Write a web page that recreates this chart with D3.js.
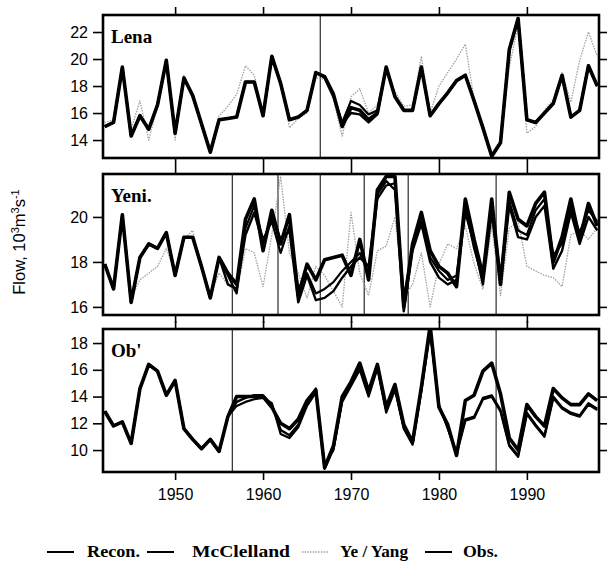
<!DOCTYPE html>
<html>
<head>
<meta charset="utf-8">
<script src="https://cdn.jsdelivr.net/npm/d3@7"></script>
<style>
  html, body { margin: 0; padding: 0; background: #fff; }
  svg { display: block; }
</style>
</head>
<body>
<svg id="chart" width="608" height="571"></svg>
<script>
// Annual river flow, 10^3 m^3 s^-1
const years = d3.range(1942, 1999);

const lenaRecon = [15.0,15.3,19.4,14.3,15.8,14.8,16.6,19.9,14.5,18.6,17.3,15.2,13.1,15.5,15.6,15.7,18.3,18.3,15.8,20.2,18.2,15.5,15.7,16.2,19.0,18.7,17.4,15.0,16.4,16.2,15.5,16.0,19.4,17.2,16.2,16.2,19.4,15.8,16.7,17.5,18.4,18.8,16.9,14.9,12.8,13.8,20.7,23.0,15.5,15.3,16.0,16.7,18.8,15.7,16.2,19.5,18.0];
const lenaMcClelland = [15.0,15.3,19.4,14.3,15.8,14.8,16.6,19.9,14.5,18.6,17.3,15.2,13.1,15.5,15.6,15.7,18.3,18.3,15.8,20.2,18.2,15.5,15.7,16.2,19.0,18.6,17.2,15.3,16.9,16.6,15.9,16.2,19.4,17.2,16.2,16.2,19.4,15.8,16.7,17.5,18.4,18.8,16.9,14.9,12.8,13.8,20.7,23.0,15.5,15.3,16.0,16.7,18.8,15.7,16.2,19.5,18.0];
const lenaYeYang = [15.3,15.5,19.0,14.8,16.9,14.0,16.5,19.7,14.0,18.8,17.0,15.0,13.2,15.8,16.5,17.4,19.5,18.8,16.0,20.0,18.5,14.9,15.6,16.0,18.6,18.5,17.0,14.3,17.2,17.8,16.0,16.6,19.0,17.6,16.5,16.6,20.2,16.0,18.0,19.0,20.0,21.1,17.0,15.2,13.0,14.0,19.4,22.5,14.5,15.0,16.2,17.0,19.0,16.8,19.9,22.0,20.2];
const lenaObs = [15.0,15.3,19.4,14.3,15.8,14.8,16.6,19.9,14.5,18.6,17.3,15.2,13.1,15.5,15.6,15.7,18.3,18.3,15.8,20.2,18.2,15.5,15.7,16.2,19.0,18.7,17.3,15.2,16.0,15.9,15.3,15.9,19.4,17.2,16.2,16.2,19.4,15.8,16.7,17.5,18.4,18.8,16.9,14.9,12.8,13.8,20.7,23.0,15.5,15.3,16.0,16.7,18.8,15.7,16.2,19.5,18.0];

const yeniRecon = [17.9,16.8,20.1,16.2,18.2,18.8,18.6,19.3,17.4,19.1,19.1,17.8,16.4,18.2,17.5,17.0,19.9,20.8,18.5,20.3,18.8,20.1,16.5,17.9,17.2,18.1,18.2,18.3,17.4,19.0,17.2,21.2,21.8,21.8,16.0,18.8,20.2,18.5,17.8,17.5,16.9,20.8,19.0,17.4,20.8,17.0,21.1,19.9,19.6,20.6,21.1,18.0,19.1,20.8,19.0,20.6,19.6];
const yeniMcClelland = [17.9,16.8,20.1,16.2,18.2,18.8,18.6,19.3,17.4,19.1,19.1,17.8,16.4,18.2,17.4,16.6,19.5,20.5,19.0,19.8,18.4,19.6,16.8,17.5,16.6,16.8,17.1,17.6,18.0,18.4,17.5,20.8,21.4,21.5,16.4,18.6,19.8,18.2,17.6,17.2,17.4,20.4,18.6,17.2,20.4,17.4,20.7,19.4,19.2,20.3,20.8,18.3,18.8,20.4,19.3,20.3,19.8];
const yeniYeYang = [17.9,16.9,19.9,16.4,17.2,17.5,17.8,18.6,17.5,19.0,19.4,17.7,16.5,17.5,17.0,16.6,18.6,18.4,16.9,19.2,21.8,18.4,17.5,16.4,17.8,17.4,16.7,16.0,20.2,17.5,16.5,18.5,18.7,20.0,16.4,17.0,18.4,16.0,17.9,18.8,18.6,19.6,17.9,16.8,19.6,16.5,19.5,19.8,17.8,17.6,17.4,17.3,16.9,19.2,19.4,19.0,19.5];
const yeniObs = [17.9,16.8,20.1,16.2,18.2,18.8,18.6,19.3,17.4,19.1,19.1,17.8,16.4,18.2,17.0,16.8,19.2,20.2,18.8,20.0,19.0,19.4,16.2,17.4,16.3,16.4,16.7,17.3,17.8,18.2,17.8,21.0,21.6,21.2,15.8,18.5,19.7,18.0,17.3,17.0,17.2,20.2,18.8,17.0,20.2,17.0,20.5,19.1,19.0,20.0,20.5,17.7,18.5,20.2,18.8,20.0,19.4];

const obRecon = [12.9,11.8,12.1,10.5,14.6,16.4,15.9,14.1,15.2,11.6,10.8,10.1,10.8,9.9,12.5,14.0,14.0,14.0,14.0,13.2,12.0,11.6,12.3,13.7,14.5,8.7,10.3,14.0,15.1,16.5,14.4,16.4,13.2,14.9,11.9,10.6,14.7,19.3,13.2,11.9,9.6,13.7,14.1,15.9,16.5,14.2,10.9,10.0,13.4,12.5,11.8,14.6,13.9,13.4,13.4,14.2,13.7];
const obMcClelland = [12.9,11.8,12.1,10.5,14.6,16.4,15.9,14.1,15.2,11.6,10.8,10.1,10.8,9.9,12.5,13.3,13.6,13.8,13.9,13.5,11.2,10.9,11.7,13.3,14.3,8.9,10.0,13.6,14.8,16.0,14.0,16.1,12.8,14.5,11.6,10.4,14.4,18.8,13.4,11.6,9.8,12.3,12.5,13.9,14.1,13.0,10.4,9.6,12.8,11.9,11.1,14.0,13.2,12.8,12.6,13.5,13.1];
const obObs = [12.9,11.8,12.1,10.5,14.6,16.4,15.9,14.1,15.2,11.6,10.8,10.1,10.8,9.9,12.5,13.6,13.9,14.1,14.1,13.4,11.5,11.1,11.9,13.5,14.6,8.6,10.1,13.8,15.0,16.3,14.2,16.3,13.0,14.7,11.7,10.5,14.6,19.1,13.3,11.7,9.7,12.2,12.4,13.8,14.0,12.9,10.3,9.5,12.7,11.8,11.0,13.9,13.1,12.7,12.5,13.4,13.0];

const lenaTicks = [14, 16, 18, 20, 22];
const yeniTicks = [16, 18, 20];
const obTicks = [10, 12, 14, 16, 18];
const yearTicks = [1950, 1960, 1970, 1980, 1990];

const lenaBreaks = [1966.5];
const yeniBreaks = [1956.5, 1961.7, 1966.5, 1971.5, 1976.5, 1986.5];
const obBreaks = [1956.5, 1986.5];

// ---- layout ----
const svg = d3.select("#chart");
const left = 103, right = 599;
const x = d3.scaleLinear().domain([1941.8, 1998.2]).range([left, right]);

const styles = {
  "Recon.":     { stroke: "#000", width: 3.6, dash: null },
  "McClelland": { stroke: "#000", width: 2.2, dash: null },
  "Ye / Yang":  { stroke: "#a0a0a0", width: 1.3, dash: "1.5,1.2" },
  "Obs.":       { stroke: "#000", width: 2.4, dash: null }
};

const panels = [
  { label: "Lena",  top: 15,  bottom: 158, domain: [12.67, 23.26], ticks: lenaTicks, breaks: lenaBreaks,
    series: { "Ye / Yang": lenaYeYang, "Recon.": lenaRecon, "McClelland": lenaMcClelland, "Obs.": lenaObs } },
  { label: "Yeni.", top: 174, bottom: 315, domain: [15.64, 21.91], ticks: yeniTicks, breaks: yeniBreaks,
    series: { "Ye / Yang": yeniYeYang, "Recon.": yeniRecon, "McClelland": yeniMcClelland, "Obs.": yeniObs } },
  { label: "Ob'",   top: 329, bottom: 472, domain: [8.36, 19.05], ticks: obTicks, breaks: obBreaks,
    series: { "Recon.": obRecon, "McClelland": obMcClelland, "Obs.": obObs } }
];

const sans = "'Liberation Sans', Arial, Helvetica, sans-serif";
const serif = "'Liberation Serif', 'Times New Roman', Times, serif";

panels.forEach((p, i) => {
  const y = d3.scaleLinear().domain(p.domain).range([p.bottom, p.top]);
  const g = svg.append("g");

  const clipId = "clip" + i;
  svg.append("clipPath").attr("id", clipId)
    .append("rect").attr("x", left).attr("y", p.top)
    .attr("width", right - left).attr("height", p.bottom - p.top);

  const plot = g.append("g").attr("clip-path", `url(#${clipId})`);

  // period separators
  plot.selectAll("line.brk").data(p.breaks).join("line")
    .attr("x1", d => x(d)).attr("x2", d => x(d))
    .attr("y1", p.top).attr("y2", p.bottom)
    .attr("stroke", "#000").attr("stroke-width", 1);

  const line = d3.line().x((d, k) => x(years[k])).y(d => y(d));

  Object.entries(p.series).forEach(([name, vals]) => {
    const s = styles[name];
    plot.append("path").datum(vals)
      .attr("d", line)
      .attr("fill", "none")
      .attr("stroke", s.stroke)
      .attr("stroke-width", s.width)
      .attr("stroke-linejoin", "round")
      .attr("stroke-dasharray", s.dash);
  });

  // axes
  const axL = d3.axisLeft(y).tickValues(p.ticks).tickSize(10).tickPadding(5).tickFormat(d3.format("d"));
  const axR = d3.axisRight(y).tickValues(p.ticks).tickSize(8).tickFormat("");
  const axT = d3.axisTop(x).tickValues(yearTicks).tickSize(8).tickFormat("");
  const axB = d3.axisBottom(x).tickValues(yearTicks).tickSize(8).tickFormat(i === 2 ? d3.format("d") : "").tickPadding(9);

  [[axL, `translate(${left},0)`], [axR, `translate(${right},0)`],
   [axT, `translate(0,${p.top})`], [axB, `translate(0,${p.bottom})`]].forEach(([ax, tr]) => {
    const a = g.append("g").attr("transform", tr).call(ax);
    a.select(".domain").remove();
    a.selectAll("line").attr("stroke", "#000").attr("stroke-width", 1.6);
    a.selectAll("text").attr("font-family", sans).attr("font-size", 16).attr("fill", "#000");
  });

  // frame
  g.append("rect").attr("x", left).attr("y", p.top)
    .attr("width", right - left).attr("height", p.bottom - p.top)
    .attr("fill", "none").attr("stroke", "#000").attr("stroke-width", 2.6);

  g.append("text").attr("x", left + 8).attr("y", p.top + 28)
    .attr("font-family", serif).attr("font-weight", "bold").attr("font-size", 19)
    .text(p.label);
});

// y axis title
svg.append("text")
  .attr("transform", "translate(25,242) rotate(-90)")
  .attr("text-anchor", "middle")
  .attr("font-family", sans).attr("font-size", 16.5)
  .call(t => {
    t.append("tspan").text("Flow, 10");
    t.append("tspan").attr("dy", -6).attr("font-size", 11).text("3");
    t.append("tspan").attr("dy", 6).text("m");
    t.append("tspan").attr("dy", -6).attr("font-size", 11).text("3");
    t.append("tspan").attr("dy", 6).text("s");
    t.append("tspan").attr("dy", -6).attr("font-size", 11).text("-1");
  });

// legend
const legendPos = [
  { name: "Recon.",     lx: 47,  tx: 87,  tw: 53 },
  { name: "McClelland", lx: 147, tx: 192, tw: 98 },
  { name: "Ye / Yang",  lx: 302, tx: 340, tw: 68 },
  { name: "Obs.",       lx: 425, tx: 463, tw: 35 }
];
const lg = svg.append("g");
legendPos.forEach(d => {
  const s = styles[d.name];
  lg.append("line")
    .attr("x1", d.lx).attr("x2", d.lx + 27).attr("y1", 552).attr("y2", 552)
    .attr("stroke", s.stroke).attr("stroke-width", Math.min(s.width, 2))
    .attr("stroke-dasharray", s.dash);
  lg.append("text").attr("x", d.tx).attr("y", 557)
    .attr("font-family", serif).attr("font-weight", "bold").attr("font-size", 16)
    .attr("textLength", d.tw).attr("lengthAdjust", "spacingAndGlyphs")
    .text(d.name);
});
</script>
</body>
</html>
